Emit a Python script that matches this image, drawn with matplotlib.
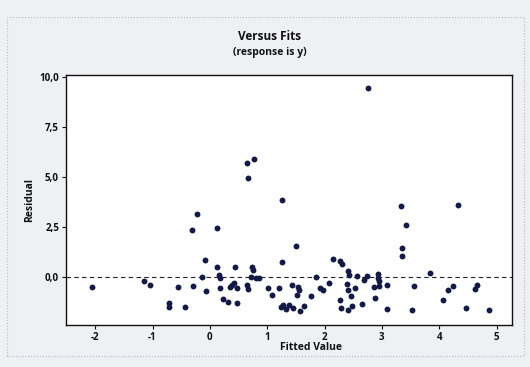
import matplotlib
matplotlib.use("Agg")
import matplotlib.pyplot as plt
from matplotlib.patches import Rectangle

fitted = [-2.05, -1.15, -1.05, -0.72, -0.72, -0.55, -0.44, -0.31, -0.23, -0.29,
          -0.14, -0.09, -0.07, 0.12, 0.13, 0.16, 0.18, 0.17, 0.23, 0.32,
          0.35, 0.38, 0.42, 0.44, 0.47, 0.48, 0.64, 0.67, 0.73, 0.76,
          0.72, 0.80, 0.85, 0.64, 0.77, 0.66, 1.02, 1.09, 1.20, 1.25,
          1.25, 1.51, 1.44, 1.54, 1.56, 1.52, 1.24, 1.28, 1.33, 1.38,
          1.45, 1.58, 1.64, 1.76, 1.86, 1.92, 1.98, 2.07, 2.15, 2.27,
          2.31, 2.41, 2.43, 2.57, 2.74, 2.69, 2.93, 2.94, 2.95, 2.39,
          2.41, 2.54, 2.46, 2.27, 2.29, 2.41, 2.48, 2.66, 2.88, 2.87,
          2.95, 3.09, 3.09, 3.52, 3.56, 3.84, 4.06, 4.16, 4.24, 4.46,
          4.62, 4.66, 4.87, 2.75, 3.34, 4.32, 3.42, 3.36, 3.35]
residual = [-0.52, -0.18, -0.38, -1.30, -1.52, -0.50, -1.50, 2.32, 3.14, -0.43,
            0.02, 0.85, -0.72, 2.43, 0.51, 0.10, -0.03, -0.54, -1.08, -1.25,
            -0.48, -0.38, -0.31, 0.52, -1.32, -0.54, -0.41, -0.59, 0.50, 0.33,
            -0.02, -0.05, -0.05, 5.71, 5.90, 4.96, -0.54, -0.91, -0.54, 0.77,
            3.86, 1.56, -0.39, -0.52, -0.67, -0.92, -1.49, -1.39, -1.60, -1.40,
            -1.55, -1.70, -1.45, -0.96, 0.00, -0.54, -0.64, -0.31, 0.92, 0.82,
            0.63, 0.32, 0.12, 0.07, 0.03, -0.16, 0.14, -0.03, -0.18, -0.36,
            -0.66, -0.56, -0.93, -1.13, -1.57, -1.63, -1.43, -1.36, -1.04, -0.49,
            -0.44, -0.41, -1.59, -1.67, -0.47, 0.18, -1.14, -0.66, -0.45, -1.56,
            -0.60, -0.38, -1.66, 9.43, 3.53, 3.60, 2.59, 1.46, 1.04]

xticks = [-2, -1, 0, 1, 2, 3, 4, 5]
xtick_labels = ["-2", "-1", "0", "1", "2", "3", "4", "5"]
yticks = [0.0, 2.5, 5.0, 7.5, 10.0]
ytick_labels = ["0,0", "2,5", "5,0", "7,5", "10,0"]

plt.rcParams['font.family'] = ['Open Sans', 'DejaVu Sans']

fig = plt.figure(figsize=(5.30, 3.67), dpi=100)
fig.patch.set_facecolor('#eef0f4')
fig.patches.append(Rectangle((0.013, 0.03), 0.975, 0.924, transform=fig.transFigure,
                             fill=False, edgecolor='#b8bcc8', linestyle=':', linewidth=0.8))

ax = fig.add_axes([0.1245, 0.1144, 0.8415, 0.6812])
ax.set_facecolor('white')
ax.axhline(0, color='#222222', linestyle=(0, (4, 3)), linewidth=0.8, zorder=1)
ax.scatter(fitted, residual, s=18, color='#141a45', zorder=3, linewidths=0)

ax.set_xlim(-2.51, 5.27)
ax.set_ylim(-2.4, 10.08)
ax.set_xticks(xticks)
ax.set_xticklabels(xtick_labels, fontsize=7, fontweight='bold')
ax.set_yticks(yticks)
ax.set_yticklabels(ytick_labels, fontsize=7, fontweight='bold')
ax.tick_params(direction='out', length=3, width=0.8, pad=2, colors='#111111')
for sp in ax.spines.values():
    sp.set_color('#111111')
    sp.set_linewidth(1.0)
ax.spines['bottom'].set_linestyle((0, (1.5, 1)))
ax.spines['top'].set_linestyle((0, (3, 1)))

fig.text(270 / 530, 1 - 37 / 367, "Versus Fits", ha='center', va='center',
         fontsize=8.5, fontweight='bold', color='#111111')
fig.text(270 / 530, 1 - 52 / 367, "(response is y)", ha='center', va='center',
         fontsize=7.5, fontweight='bold', color='#111111')
fig.text(311 / 530, 1 - 348 / 367, "Fitted Value", ha='center', va='center',
         fontsize=7.5, fontweight='bold', color='#111111')
fig.text(30 / 530, 1 - 200 / 367, "Residual", ha='center', va='center', rotation=90,
         fontsize=7.5, fontweight='bold', color='#111111')

fig.savefig("out.png", dpi=100, facecolor=fig.get_facecolor())
